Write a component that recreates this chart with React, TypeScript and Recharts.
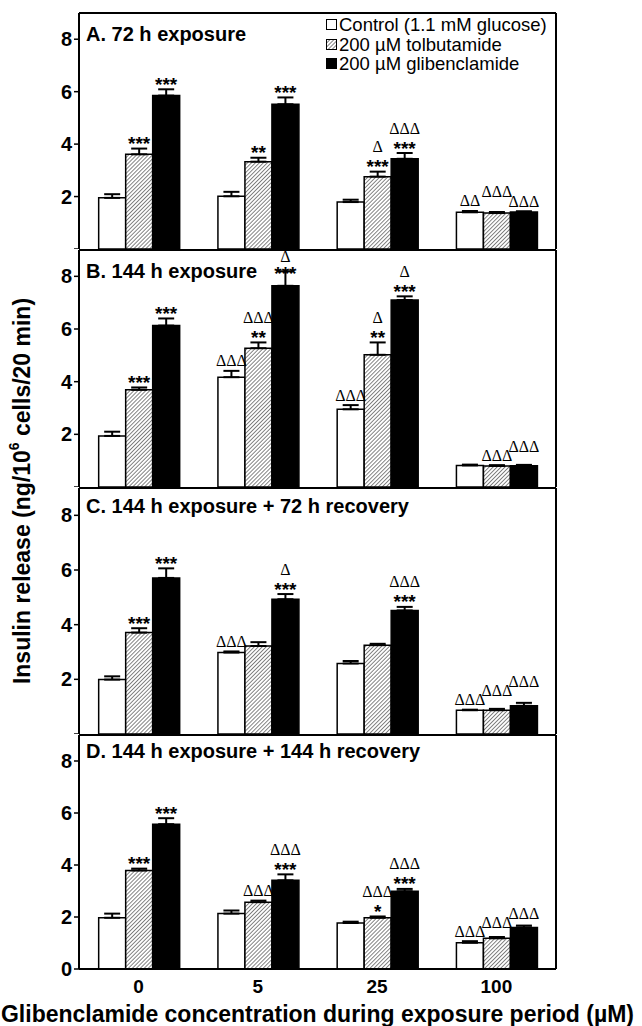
import React from "react";
import { BarChart, Bar, XAxis, YAxis, ErrorBar, LabelList } from "recharts";

const doses = ["0", "5", "25", "100"];
const seriesNames = ["Control (1.1 mM glucose)", "200 \u00b5M tolbutamide", "200 \u00b5M glibenclamide"];
const yTicks = [0, 2, 4, 6, 8];

// A. 72 h exposure
const ctrlA = [1.95, 2.01, 1.79, 1.4];
const tolbA = [3.61, 3.33, 2.76, 1.37];
const glibA = [5.85, 5.52, 3.44, 1.41];
const ctrlSemA = [0.14, 0.17, 0.09, 0.05];
const tolbSemA = [0.22, 0.15, 0.19, 0.04];
const glibSemA = [0.24, 0.26, 0.22, 0.03];
const starsA = [["", "", "", ""], ["***", "**", "***", ""], ["***", "***", "***", ""]];
const deltasA = [["", "", "", "\u0394\u0394"], ["", "", "\u0394", "\u0394\u0394\u0394"], ["", "", "\u0394\u0394\u0394", "\u0394\u0394\u0394"]];

// B. 144 h exposure
const ctrlB = [1.94, 4.17, 2.95, 0.82];
const tolbB = [3.69, 5.27, 5.02, 0.8];
const glibB = [6.13, 7.64, 7.1, 0.81];
const ctrlSemB = [0.16, 0.24, 0.16, 0.03];
const tolbSemB = [0.09, 0.22, 0.47, 0.03];
const glibSemB = [0.27, 0.55, 0.14, 0.03];
const starsB = [["", "", "", ""], ["***", "**", "**", ""], ["***", "***", "***", ""]];
const deltasB = [["", "\u0394\u0394\u0394", "\u0394\u0394\u0394", ""], ["", "\u0394\u0394\u0394", "\u0394", "\u0394\u0394\u0394"], ["", "\u0394", "\u0394", "\u0394\u0394\u0394"]];

// C. 144 h exposure + 72 h recovery
const ctrlC = [1.99, 2.98, 2.58, 0.87];
const tolbC = [3.71, 3.22, 3.25, 0.87];
const glibC = [5.71, 4.93, 4.52, 1.03];
const ctrlSemC = [0.12, 0.04, 0.09, 0.02];
const tolbSemC = [0.16, 0.14, 0.05, 0.05];
const glibSemC = [0.35, 0.19, 0.13, 0.11];
const starsC = [["", "", "", ""], ["***", "", "", ""], ["***", "***", "***", ""]];
const deltasC = [["", "\u0394\u0394\u0394", "", "\u0394\u0394\u0394"], ["", "", "", "\u0394\u0394\u0394"], ["", "\u0394", "\u0394\u0394\u0394", "\u0394\u0394\u0394"]];

// D. 144 h exposure + 144 h recovery
const ctrlD = [1.97, 2.13, 1.77, 1.01];
const tolbD = [3.79, 2.57, 1.97, 1.18];
const glibD = [5.57, 3.41, 2.99, 1.6];
const ctrlSemD = [0.16, 0.12, 0.05, 0.06];
const tolbSemD = [0.07, 0.06, 0.05, 0.05];
const glibSemD = [0.23, 0.23, 0.09, 0.07];
const starsD = [["", "", "", ""], ["***", "", "*", ""], ["***", "***", "***", ""]];
const deltasD = [["", "", "", "\u0394\u0394\u0394"], ["", "\u0394\u0394\u0394", "\u0394\u0394\u0394", "\u0394\u0394\u0394"], ["", "\u0394\u0394\u0394", "\u0394\u0394\u0394", "\u0394\u0394\u0394"]];

const FONT = '"Liberation Sans", Arial, sans-serif';
const W = 642;
const PLOT_LEFT = 79;
const PLOT_RIGHT = 557;
const MT = 30;
const Y_MAX = 9;

type Panel = {
  key: string;
  title: string;
  top: number;
  h: number;
  titleDy: number;
  means: number[][];
  sems: number[][];
  stars: string[][];
  deltas: string[][];
  last?: boolean;
};

const panels: Panel[] = [
  { key: "A", title: "A. 72 h exposure", top: 12, h: 237, titleDy: 21, means: [ctrlA, tolbA, glibA], sems: [ctrlSemA, tolbSemA, glibSemA], stars: starsA, deltas: deltasA },
  { key: "B", title: "B. 144 h exposure", top: 249, h: 238, titleDy: 21, means: [ctrlB, tolbB, glibB], sems: [ctrlSemB, tolbSemB, glibSemB], stars: starsB, deltas: deltasB },
  { key: "C", title: "C. 144 h exposure + 72 h recovery", top: 487, h: 247, titleDy: 18, means: [ctrlC, tolbC, glibC], sems: [ctrlSemC, tolbSemC, glibSemC], stars: starsC, deltas: deltasC },
  { key: "D", title: "D. 144 h exposure + 144 h recovery", top: 734, h: 235, titleDy: 16, means: [ctrlD, tolbD, glibD], sems: [ctrlSemD, tolbSemD, glibSemD], stars: starsD, deltas: deltasD, last: true },
];

const seriesKeys = ["ctrl", "tolb", "glib"];

const makeRows = (p: Panel) =>
  doses.map((d, i) => {
    const row: any = { dose: d };
    seriesKeys.forEach((k, s) => {
      row[k] = p.means[s][i];
      row[k + "Err"] = [0, p.sems[s][i]];
    });
    return row;
  });

// where the star / delta marks sit for one category, in px
const markLayout = (p: Panel, cat: number, k: number, zeroY: number) => {
  const out: { starY: number; deltaY: number }[] = [];
  const plotTop = zeroY - Y_MAX * k;
  let prev: number | null = null;
  for (let s = 0; s < 3; s++) {
    const errTop = zeroY - (p.means[s][cat] + p.sems[s][cat]) * k;
    let starY = errTop - 9;
    let deltaY = p.stars[s][cat] ? starY - 16 : errTop - 10;
    if (p.deltas[s][cat] && prev !== null && Math.abs(deltaY - prev) < 9) deltaY = prev - 9;
    // keep marks inside the frame when the bar is tall
    if (p.deltas[s][cat] && deltaY < plotTop + 6) {
      deltaY = plotTop + 6;
      starY = Math.max(starY, deltaY + 13);
    }
    out.push({ starY, deltaY });
    prev = p.deltas[s][cat] ? deltaY : null;
  }
  return out;
};

const marks = (p: Panel, s: number) => (props: any) => {
  const vb = props.viewBox || props;
  const x = Number(vb.x), y = Number(vb.y), w = Number(vb.width), h = Number(vb.height);
  const cat = doses.indexOf(String(props.value));
  if (cat < 0 || !isFinite(x)) return null;
  const k = h / p.means[s][cat];
  const lay = markLayout(p, cat, k, y + h)[s];
  const cx = x + w / 2;
  const star = p.stars[s][cat];
  const delta = p.deltas[s][cat];
  return (
    <g>
      {star ? (
        <text x={cx} y={lay.starY + 10.5} textAnchor="middle" fontFamily={FONT} fontWeight="bold" fontSize={19} fill="#000">
          {star}
        </text>
      ) : null}
      {delta ? (
        <text x={cx} y={lay.deltaY + 5.5} textAnchor="middle" fontFamily='"Liberation Serif", serif' fontSize={16} fill="#000">
          {delta}
        </text>
      ) : null}
    </g>
  );
};

const swatch = (s: number) => (
  <svg width={11} height={11} style={{ display: "block", marginRight: 2 }}>
    <defs>
      <pattern id="hatchLegend" patternUnits="userSpaceOnUse" width={2.8} height={2.8} patternTransform="rotate(45)">
        <rect width={2.8} height={2.8} fill="#fff" />
        <line x1={0} y1={0} x2={0} y2={2.8} stroke="#333" strokeWidth={1.2} />
      </pattern>
    </defs>
    <rect x={0.5} y={0.5} width={10} height={10} stroke="#000" strokeWidth={1} fill={s === 0 ? "#fff" : s === 1 ? "url(#hatchLegend)" : "#000"} />
  </svg>
);

const LegendBox = () => (
  <div style={{ position: "absolute", left: 326, top: 15, fontFamily: FONT, fontSize: 18.5, lineHeight: "19.5px", color: "#000" }}>
    {seriesNames.map((n, s) => (
      <div key={n} style={{ display: "flex", alignItems: "center", whiteSpace: "nowrap" }}>
        {swatch(s)}
        <span>{n}</span>
      </div>
    ))}
  </div>
);

const lineProps = { stroke: "#000", strokeWidth: 2 };

const PanelChart = ({ p }: { p: Panel }) => {
  const xh = p.last ? 57 : 0;
  const rows = makeRows(p);
  const fills = ["#fff", `url(#hatch${p.key})`, "#000"];
  return (
    <div style={{ position: "absolute", left: 0, top: p.top - MT }}>
      <BarChart
        width={W}
        height={MT + p.h + xh}
        data={rows}
        margin={{ top: MT, right: W - PLOT_RIGHT, left: 0, bottom: 0 }}
        barCategoryGap="16.5%"
        barGap={0}
      >
        <defs>
          <pattern id={`hatch${p.key}`} patternUnits="userSpaceOnUse" width={2.8} height={2.8} patternTransform="rotate(45)">
            <rect width={2.8} height={2.8} fill="#fff" />
            <line x1={0} y1={0} x2={0} y2={2.8} stroke="#333" strokeWidth={1.2} />
          </pattern>
        </defs>
        <XAxis
          xAxisId="bottom"
          dataKey="dose"
          height={xh}
          stroke="#000"
          strokeWidth={2}
          axisLine={lineProps}
          tickLine={false}
          tick={p.last ? { fontFamily: FONT, fontWeight: "bold", fontSize: 19, fill: "#000", stroke: "none" } : false}
          tickMargin={5}
          label={
            p.last
              ? { value: "Glibenclamide concentration during exposure period (\u00b5M)", position: "insideBottom", offset: 4, fontFamily: FONT, fontWeight: "bold", fontSize: 23, fill: "#000", stroke: "none" }
              : undefined
          }
        />
        <XAxis xAxisId="top" dataKey="dose" orientation="top" height={1} stroke="#000" strokeWidth={2} tick={false} tickLine={false} axisLine={lineProps} />
        <YAxis
          yAxisId="left"
          width={PLOT_LEFT}
          domain={[0, Y_MAX]}
          ticks={yTicks}
          interval={0}
          tickSize={5}
          tickMargin={2}
          stroke="#000"
          strokeWidth={2}
          tickFormatter={(v: number) => (v === 0 && !p.last ? "" : String(v))}
          tick={{ fontFamily: FONT, fontWeight: "bold", fontSize: 20, fill: "#000", stroke: "none" }}
          tickLine={{ stroke: "#000", strokeWidth: 1.5 }}
          axisLine={lineProps}
        />
        <YAxis yAxisId="right" orientation="right" width={1} domain={[0, Y_MAX]} stroke="#000" strokeWidth={2} tick={false} tickLine={false} axisLine={lineProps} />
        {seriesKeys.map((k, s) => (
          <Bar
            key={k}
            xAxisId="bottom"
            yAxisId="left"
            dataKey={k}
            name={seriesNames[s]}
            fill={fills[s]}
            stroke="#000"
            strokeWidth={1.5}
            isAnimationActive={false}
          >
            <ErrorBar dataKey={k + "Err"} width={8} stroke="#000" strokeWidth={2} direction="y" isAnimationActive={false} />
            <LabelList dataKey="dose" content={marks(p, s)} />
          </Bar>
        ))}
      </BarChart>
    </div>
  );
};

const App = () => (
  <div style={{ position: "absolute", left: 0, top: 0, width: W, height: 1026, background: "#fff", fontFamily: FONT }}>
    {panels.map((p) => (
      <PanelChart key={p.key} p={p} />
    ))}
    <LegendBox />
    {panels.map((p) => (
      <div
        key={"t" + p.key}
        style={{ position: "absolute", left: 86, top: p.top + p.titleDy - 9.5, fontSize: 20, lineHeight: 1, fontWeight: "bold", whiteSpace: "nowrap", color: "#000" }}
      >
        {p.title}
      </div>
    ))}
    <svg width={50} height={1026} style={{ position: "absolute", left: 0, top: 0 }}>
      <text
        x={22}
        y={491}
        transform="rotate(-90 22 491)"
        textAnchor="middle"
        dominantBaseline="central"
        fontFamily={FONT}
        fontWeight="bold"
        fontSize={23}
        fill="#000"
      >
        Insulin release (ng/10
        <tspan fontSize={14} dy={-8}>6</tspan>
        <tspan dy={8}> cells/20 min)</tspan>
      </text>
    </svg>
  </div>
);

export default App;
